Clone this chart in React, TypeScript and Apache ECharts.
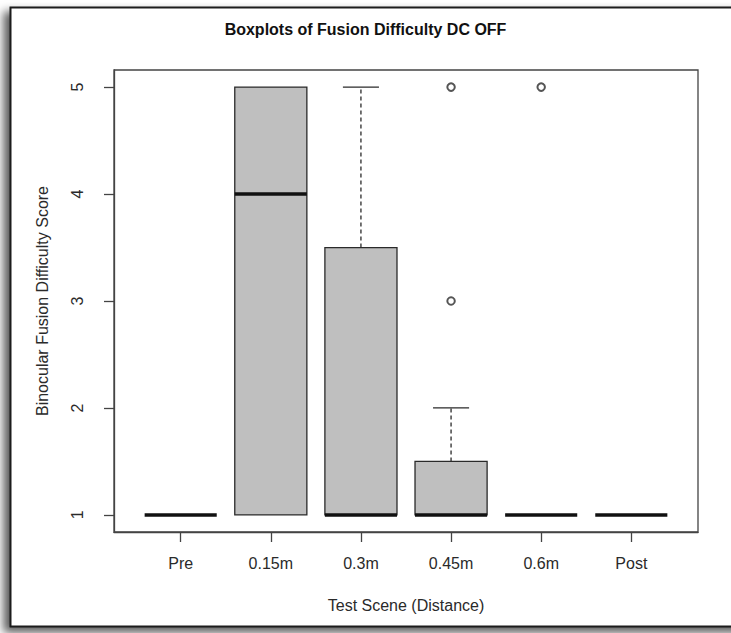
import React, { useEffect, useRef } from "react";
import * as echarts from "echarts";

// Scene categories along the x axis (boxes sit at positions 1..6)
const categories = ["Pre", "0.15m", "0.3m", "0.45m", "0.6m", "Post"];
const positions = [1, 2, 3, 4, 5, 6];

// Five-number summaries per scene
const lowerWhisker = [1, 1, 1, 1, 1, 1];
const lowerHinge = [1, 1, 1, 1, 1, 1];
const medians = [1, 4, 1, 1, 1, 1];
const upperHinge = [1, 5, 3.5, 1.5, 1, 1];
const upperWhisker = [1, 5, 5, 2, 1, 1];

// Outliers as [position, score]
const outliers: [number, number][] = [
  [4, 3],
  [4, 5],
  [5, 5],
];

const yTicks = [1, 2, 3, 4, 5];

const FONT = "'Liberation Sans', Arial, Helvetica, sans-serif";
const INK = "#2a2a2a";

export default function App() {
  const ref = useRef<HTMLDivElement>(null);

  useEffect(() => {
    if (!ref.current) return;
    const chart = echarts.init(ref.current, undefined, { renderer: "svg" });

    const boxData = positions.map((p, i) => [
      p,
      lowerWhisker[i],
      lowerHinge[i],
      medians[i],
      upperHinge[i],
      upperWhisker[i],
    ]);

    const renderBox = (params: any, api: any) => {
      const x = api.value(0);
      const lw = api.value(1);
      const lh = api.value(2);
      const md = api.value(3);
      const uh = api.value(4);
      const uw = api.value(5);
      const boxW = api.size([0.8, 0])[0];
      const half = boxW / 2;
      const staple = boxW / 4;
      const c = (v: number) => api.coord([x, v]);
      const pLh = c(lh);
      const pUh = c(uh);
      const pMd = c(md);
      const pLw = c(lw);
      const pUw = c(uw);
      const cx = pMd[0];
      const children: any[] = [];

      if (uw > uh) {
        children.push({
          type: "line",
          shape: { x1: cx, y1: pUh[1], x2: cx, y2: pUw[1] },
          style: { stroke: INK, lineWidth: 1.3, lineDash: [4, 3] },
        });
        children.push({
          type: "line",
          shape: { x1: cx - staple, y1: pUw[1], x2: cx + staple, y2: pUw[1] },
          style: { stroke: INK, lineWidth: 1.3 },
        });
      }
      if (lw < lh) {
        children.push({
          type: "line",
          shape: { x1: cx, y1: pLh[1], x2: cx, y2: pLw[1] },
          style: { stroke: INK, lineWidth: 1.3, lineDash: [4, 3] },
        });
        children.push({
          type: "line",
          shape: { x1: cx - staple, y1: pLw[1], x2: cx + staple, y2: pLw[1] },
          style: { stroke: INK, lineWidth: 1.3 },
        });
      }
      if (uh > lh) {
        children.push({
          type: "rect",
          shape: { x: cx - half, y: pUh[1], width: boxW, height: pLh[1] - pUh[1] },
          style: { fill: "#bfbfbf", stroke: INK, lineWidth: 1.3 },
        });
      }
      children.push({
        type: "line",
        shape: { x1: cx - half, y1: pMd[1], x2: cx + half, y2: pMd[1] },
        style: { stroke: "#111", lineWidth: 3.5 },
      });
      return { type: "group", children };
    };

    chart.setOption({
      animation: false,
      backgroundColor: "#ffffff",
      textStyle: { fontFamily: FONT },
      title: {
        text: "Boxplots of Fusion Difficulty DC OFF",
        left: "center",
        top: 16,
        textStyle: { fontFamily: FONT, fontSize: 16, fontWeight: "bold", color: "#111" },
      },
      graphic: [
        {
          type: "rect",
          z: -10,
          silent: true,
          shape: { x: 10.5, y: 7.5, width: 760, height: 619 },
          style: {
            fill: "#ffffff",
            stroke: "#1c1c1c",
            lineWidth: 2,
            shadowBlur: 10,
            shadowOffsetX: -6,
            shadowOffsetY: 5,
            shadowColor: "rgba(0,0,0,0.65)",
          },
        },
      ],
      grid: {
        left: 114,
        right: 33,
        top: 70,
        bottom: 101,
        show: true,
        borderColor: "#444",
        borderWidth: 1.3,
        backgroundColor: "transparent",
      },
      xAxis: {
        type: "value",
        min: 0.26,
        max: 6.74,
        name: "Test Scene (Distance)",
        nameLocation: "middle",
        nameGap: 65,
        nameTextStyle: { fontFamily: FONT, fontSize: 16, color: INK },
        axisLine: { show: true, lineStyle: { color: "#444", width: 1.3 } },
        axisTick: {
          show: true,
          length: 10,
          customValues: positions,
          lineStyle: { color: "#444", width: 1.3 },
        },
        axisLabel: {
          customValues: positions,
          formatter: (v: number) => categories[Math.round(v) - 1] ?? "",
          margin: 23,
          fontFamily: FONT,
          fontSize: 16,
          color: INK,
        },
        splitLine: { show: false },
      },
      yAxis: {
        type: "value",
        min: 0.84,
        max: 5.16,
        name: "Binocular Fusion Difficulty Score",
        nameLocation: "middle",
        nameGap: 64,
        nameTextStyle: { fontFamily: FONT, fontSize: 16, color: INK },
        axisLine: { show: true, lineStyle: { color: "#444", width: 1.3 } },
        axisTick: {
          show: true,
          length: 10,
          customValues: yTicks,
          lineStyle: { color: "#444", width: 1.3 },
        },
        axisLabel: {
          customValues: yTicks,
          rotate: 90,
          margin: 29,
          fontFamily: FONT,
          fontSize: 16,
          color: INK,
        },
        splitLine: { show: false },
      },
      series: [
        {
          type: "custom",
          renderItem: renderBox,
          data: boxData,
          encode: { x: 0, y: [1, 2, 3, 4, 5] },
          clip: false,
          z: 3,
        },
        {
          type: "scatter",
          data: outliers,
          symbol: "emptyCircle",
          symbolSize: 7.5,
          itemStyle: { color: INK, borderColor: INK, borderWidth: 1.1 },
          z: 4,
        },
      ],
    });

    return () => chart.dispose();
  }, []);

  return (
    <div
      ref={ref}
      style={{ position: "fixed", left: 0, top: 0, width: 731, height: 633 }}
    />
  );
}
